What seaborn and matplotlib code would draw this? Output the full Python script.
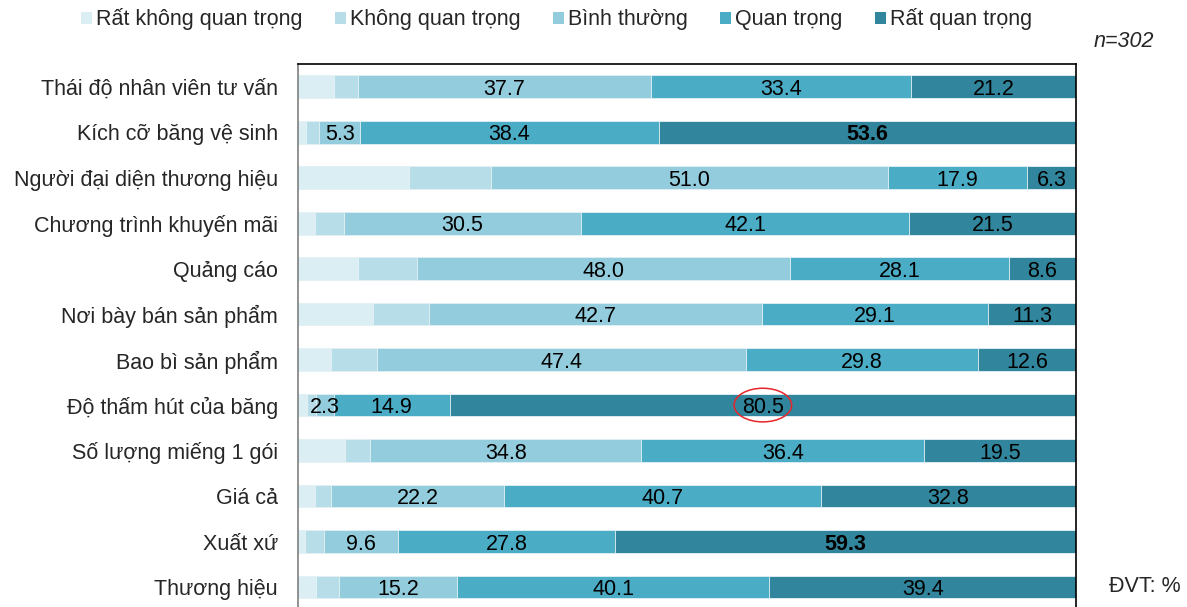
import numpy as np
import pandas as pd
import seaborn as sns
import matplotlib.pyplot as plt
from matplotlib.patches import Ellipse, Patch

sns.set_style("white")
plt.rcParams["font.family"] = ["Liberation Sans", "DejaVu Sans"]

categories = ["Thái độ nhân viên tư vấn", "Kích cỡ băng vệ sinh", "Người đại diện thương hiệu",
              "Chương trình khuyến mãi", "Quảng cáo", "Nơi bày bán sản phẩm", "Bao bì sản phẩm",
              "Độ thấm hút của băng", "Số lượng miếng 1 gói", "Giá cả", "Xuất xứ", "Thương hiệu"]
levels = ["Rất không quan trọng", "Không quan trọng", "Bình thường", "Quan trọng", "Rất quan trọng"]

rat_khong = [4.6, 1.0, 14.3, 2.2, 7.7, 9.6, 4.2, 1.2, 6.0, 2.2, 0.9, 2.3]
khong = [3.1, 1.7, 10.5, 3.7, 7.6, 7.3, 6.0, 1.1, 3.3, 2.1, 2.4, 3.0]
binh_thuong = [37.7, 5.3, 51.0, 30.5, 48.0, 42.7, 47.4, 2.3, 34.8, 22.2, 9.6, 15.2]
quan_trong = [33.4, 38.4, 17.9, 42.1, 28.1, 29.1, 29.8, 14.9, 36.4, 40.7, 27.8, 40.1]
rat_quan_trong = [21.2, 53.6, 6.3, 21.5, 8.6, 11.3, 12.6, 80.5, 19.5, 32.8, 59.3, 39.4]

colors = ["#DAEEF3", "#B7DEE8", "#93CDDD", "#4BACC6", "#31859C"]
bold_labels = {("Kích cỡ băng vệ sinh", 4), ("Xuất xứ", 4)}
FS = 15.5

df = pd.DataFrame({"cat": categories})
series = [rat_khong, khong, binh_thuong, quan_trong, rat_quan_trong]
for lv, vals in zip(levels, series):
    df[lv] = vals
cum = df[levels].cumsum(axis=1)

fig = plt.figure(figsize=(11.87, 6.07), dpi=100)
ax = fig.add_axes([0.251, 0.0, 0.6555, 0.8946])

# draw cumulative totals from the outermost level inwards
for i in range(len(levels) - 1, -1, -1):
    sns.barplot(x=cum[levels[i]], y=df["cat"], orient="h", color=colors[i], width=0.5,
                edgecolor="#e6f2f5", linewidth=0.6, saturation=1, ax=ax)

for r, cat in enumerate(categories):
    for i in range(2, 5):
        val = df.loc[r, levels[i]]
        center = cum.loc[r, levels[i]] - val / 2
        weight = "bold" if (cat, i) in bold_labels else "normal"
        ax.text(center, r, f"{val:.1f}", ha="center", va="center_baseline", fontsize=FS,
                color="black", fontweight=weight)

# highlight the absorbency value
r_hl = categories.index("Độ thấm hút của băng")
x_hl = cum.loc[r_hl, levels[4]] - df.loc[r_hl, levels[4]] / 2
ax.add_patch(Ellipse((x_hl, r_hl), 7.4, 0.74, fill=False, edgecolor="#e8262a", linewidth=1.1, zorder=5))

ax.set_xlim(0, 100)
ax.set_ylim(11.44, -0.5)
ax.set_xlabel("")
ax.set_ylabel("")
ax.set_xticks([])
ax.tick_params(axis="y", length=0, pad=14.5, labelsize=FS)
ax.spines["bottom"].set_visible(False)
ax.spines["left"].set_color("#7f7f7f")
for s in ["top", "right"]:
    ax.spines[s].set_color("black")
for s in ["left", "top", "right"]:
    ax.spines[s].set_linewidth(1.2)

handles = [Patch(facecolor=c, edgecolor="none") for c in colors]
fig.legend(handles, levels, loc="center left", bbox_to_anchor=(0.061, 0.968), ncol=5,
           frameon=False, fontsize=FS, handlelength=0.5, handleheight=0.5,
           handletextpad=0.2, columnspacing=1.5, borderaxespad=0)

fig.text(0.972, 0.931, "n=302", ha="right", va="center", fontsize=FS, style="italic")
fig.text(0.995, 0.033, "ĐVT: %", ha="right", va="center", fontsize=FS)

fig.savefig("out.png", dpi=100)
